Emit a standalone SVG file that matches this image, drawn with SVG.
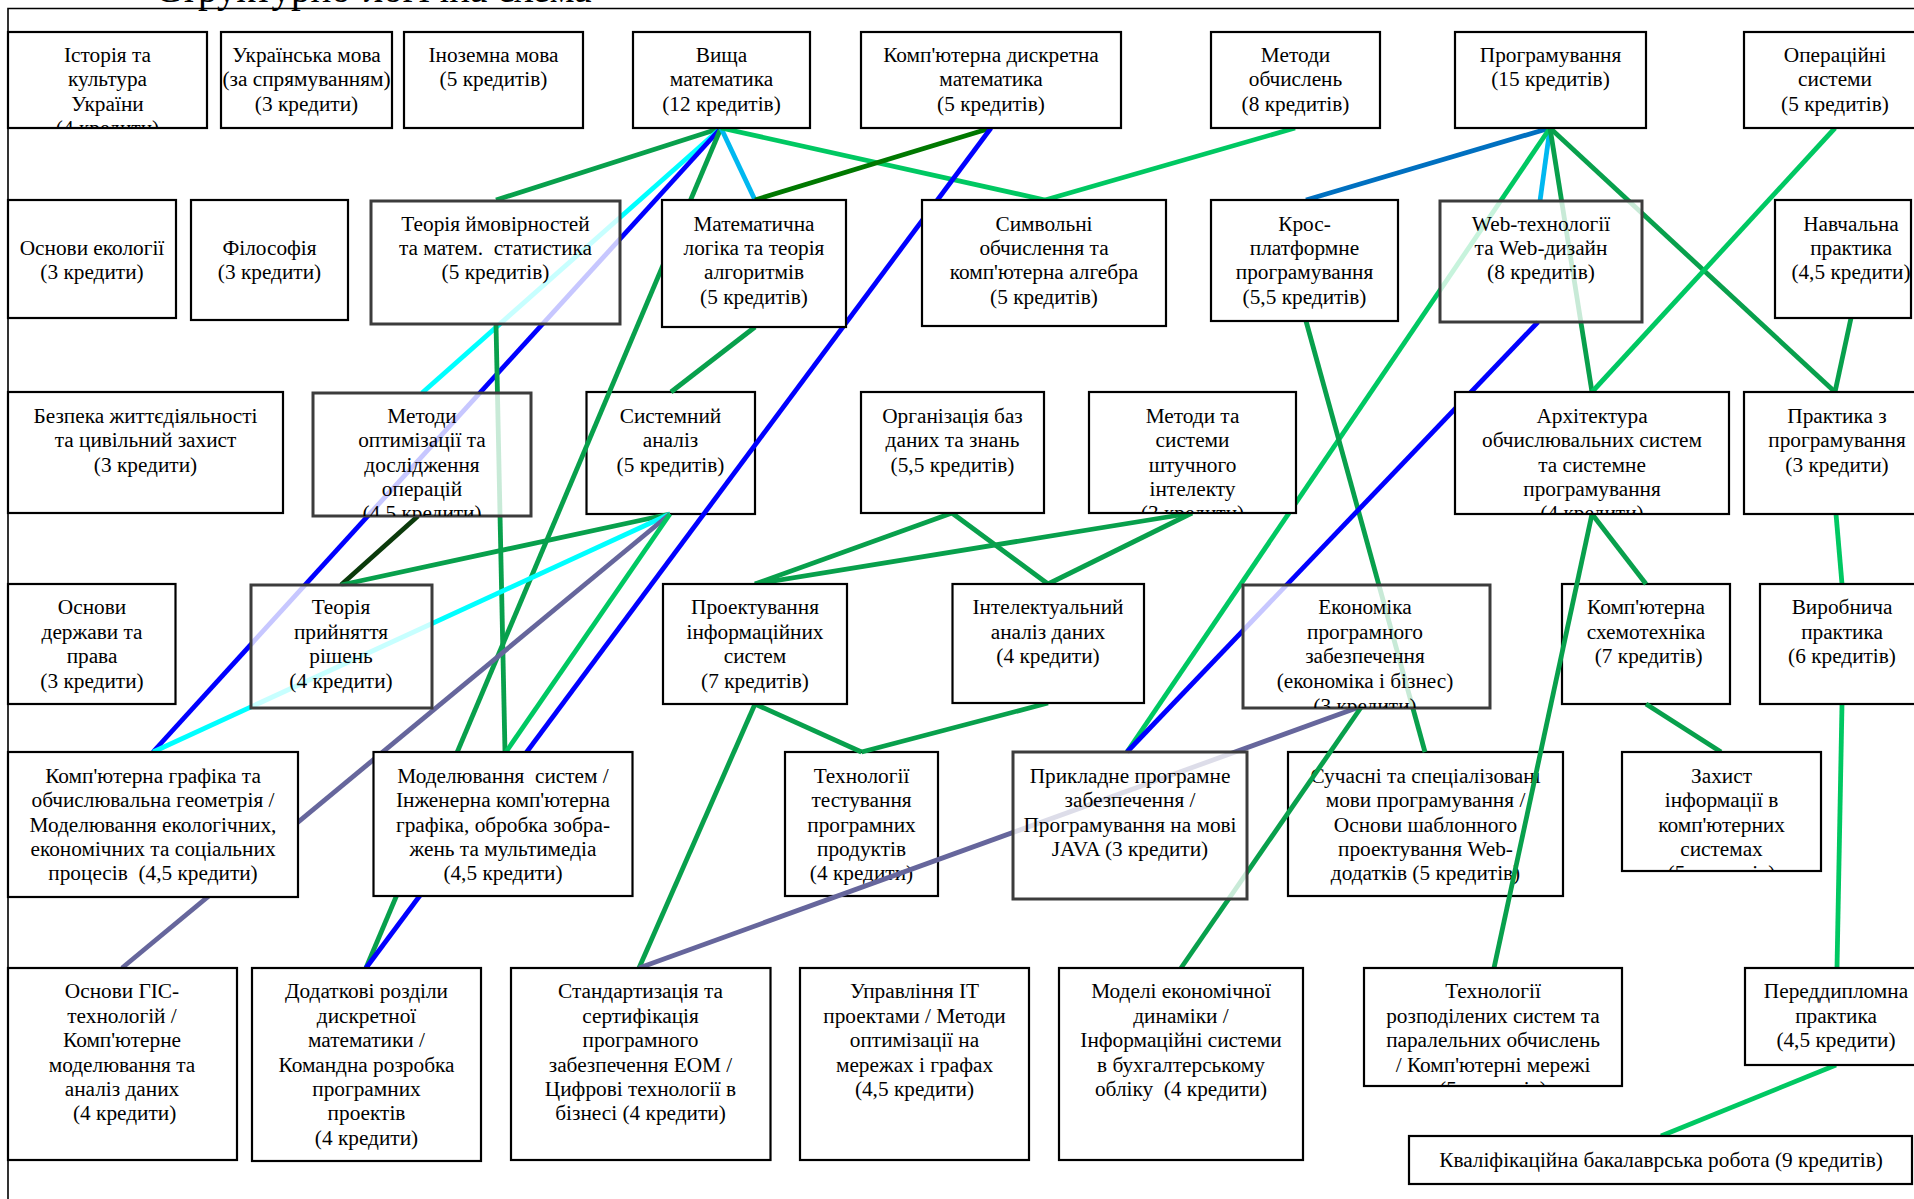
<svg xmlns="http://www.w3.org/2000/svg" width="1914" height="1199" viewBox="0 0 1914 1199" xml:space="preserve">
<style>
.t{font-family:"Liberation Serif","Times New Roman",serif;font-size:21.3px;fill:#000;text-anchor:middle;white-space:pre}
.b{fill:#fff;stroke:#000;stroke-width:2.2}
.g{fill:#fff;fill-opacity:0.78;stroke:#3c3c3c;stroke-width:3}
.c line{stroke-width:4.8;stroke-linecap:butt;fill:none}
.gd{stroke:#08a04c}
.gl{stroke:#00c862}
.dg{stroke:#007800}
.vdg{stroke:#0b3a0b}
.bl{stroke:#0000ff}
.mb{stroke:#0070c0}
.sk{stroke:#00b8f0}
.cy{stroke:#00ffff}
.sl{stroke:#66669c}
</style>
<defs>
<clipPath id="k1"><rect x="8" y="32" width="199" height="96"/></clipPath>
<clipPath id="k18"><rect x="313" y="393" width="218" height="123"/></clipPath>
<clipPath id="k21"><rect x="1089" y="392" width="207" height="121"/></clipPath>
<clipPath id="k22"><rect x="1455" y="392" width="274" height="122"/></clipPath>
<clipPath id="k28"><rect x="1243" y="585" width="247" height="123"/></clipPath>
<clipPath id="k36"><rect x="1622" y="752" width="199" height="119"/></clipPath>
<clipPath id="k42"><rect x="1364" y="968" width="258" height="118"/></clipPath>
</defs>
<rect x="0" y="0" width="1914" height="1199" fill="#fff"/>
<g id="frame">
<text x="155" y="1.5" style="font-family:'Liberation Serif',serif;font-size:39px">Структурно-логічна схема</text>
<path d="M8 1199 V8.5 H1914" fill="none" stroke="#000" stroke-width="1.6"/>
</g>
<g id="n19"><rect class="b" x="586.5" y="392" width="168.5" height="122"/><text class="t"><tspan x="670.5" y="422.7">Системний</tspan><tspan x="670.5" y="447.1">аналіз</tspan><tspan x="670.5" y="471.5">(5 кредитів)</tspan></text></g>
<g id="n33"><rect class="b" x="785" y="752" width="153" height="144"/><text class="t"><tspan x="861.5" y="782.7">Технології</tspan><tspan x="861.5" y="807.1">тестування</tspan><tspan x="861.5" y="831.5">програмних</tspan><tspan x="861.5" y="855.9">продуктів</tspan><tspan x="861.5" y="880.3">(4 кредити)</tspan></text></g>
<g id="n35"><rect class="b" x="1288" y="752" width="275" height="144"/><text class="t"><tspan x="1425.5" y="782.7">Сучасні та спеціалізовані</tspan><tspan x="1425.5" y="807.1">мови програмування /</tspan><tspan x="1425.5" y="831.5">Основи шаблонного</tspan><tspan x="1425.5" y="855.9">проектування Web-</tspan><tspan x="1425.5" y="880.3">додатків (5 кредитів)</tspan></text></g>
<g id="n29"><rect class="b" x="1562" y="584" width="168" height="120"/><text class="t"><tspan x="1646" y="614.3">Комп'ютерна</tspan><tspan x="1646" y="638.7">схемотехніка</tspan><tspan x="1646" y="663.1"> (7 кредитів)</tspan></text></g>
<g id="connectors" class="c">
<line class="gd" x1="721" y1="128" x2="496" y2="200"/>
<line class="cy" x1="721" y1="128" x2="422" y2="393"/>
<line class="bl" x1="721" y1="128" x2="153" y2="752"/>
<line class="gd" x1="721" y1="128" x2="366" y2="968"/>
<line class="sk" x1="721" y1="128" x2="755" y2="200"/>
<line class="gl" x1="721" y1="128" x2="1045" y2="200"/>
<line class="dg" x1="991" y1="128" x2="755" y2="200"/>
<line class="bl" x1="991" y1="128" x2="366" y2="968"/>
<line class="gl" x1="1295" y1="128" x2="1045" y2="200"/>
<line class="gd" x1="755" y1="327" x2="671" y2="392"/>
<line class="mb" x1="1550" y1="128" x2="1306" y2="200"/>
<line class="sk" x1="1550" y1="128" x2="1540" y2="201"/>
<line class="gl" x1="1550" y1="128" x2="1127" y2="752"/>
<line class="gd" x1="1550" y1="128" x2="1592" y2="392"/>
<line class="gd" x1="1550" y1="128" x2="1835" y2="392"/>
<line class="gl" x1="1835" y1="128" x2="1592" y2="392"/>
<line class="gd" x1="1851" y1="318" x2="1835" y2="392"/>
<line class="gd" x1="496" y1="324" x2="505" y2="752"/>
<line class="vdg" x1="418" y1="516" x2="341" y2="585"/>
<line class="gd" x1="670" y1="514" x2="341" y2="585"/>
<line class="cy" x1="670" y1="514" x2="153" y2="752"/>
<line class="sl" x1="670" y1="514" x2="122" y2="968"/>
<line class="gl" x1="670" y1="514" x2="506" y2="752"/>
<line class="gd" x1="952" y1="513" x2="755" y2="584"/>
<line class="gd" x1="952" y1="513" x2="1048" y2="584"/>
<line class="gd" x1="1192" y1="513" x2="755" y2="584"/>
<line class="gd" x1="1192" y1="513" x2="1048" y2="584"/>
<line class="gd" x1="755" y1="704" x2="861.5" y2="752"/>
<line class="gd" x1="1048" y1="703" x2="861.5" y2="752"/>
<line class="gd" x1="755" y1="704" x2="639" y2="968"/>
<line class="sl" x1="1362" y1="706" x2="639" y2="968"/>
<line class="gd" x1="1362" y1="706" x2="1181" y2="968"/>
<line class="gd" x1="1306" y1="321" x2="1425" y2="752"/>
<line class="bl" x1="1538" y1="322" x2="1127" y2="752"/>
<line class="gd" x1="1592" y1="514" x2="1646" y2="584"/>
<line class="gd" x1="1592" y1="514" x2="1494" y2="968"/>
<line class="gd" x1="1646" y1="704" x2="1721" y2="752"/>
<line class="gl" x1="1836" y1="514" x2="1842" y2="584"/>
<line class="gl" x1="1842" y1="704" x2="1837" y2="968"/>
<line class="gl" x1="1836" y1="1065" x2="1661" y2="1136"/>
</g>
<g id="n1"><rect class="b" x="8" y="32" width="199" height="96"/><text class="t" clip-path="url(#k1)"><tspan x="107.5" y="62">Історія та</tspan><tspan x="107.5" y="86.4">культура</tspan><tspan x="107.5" y="110.8">України</tspan><tspan x="107.5" y="135.2">(4 кредити)</tspan></text></g>
<g id="n2"><rect class="b" x="221" y="32" width="171" height="96"/><text class="t"><tspan x="306.5" y="62">Українська мова</tspan><tspan x="306.5" y="86.4">(за спрямуванням)</tspan><tspan x="306.5" y="110.8">(3 кредити)</tspan></text></g>
<g id="n3"><rect class="b" x="404" y="32" width="179" height="96"/><text class="t"><tspan x="493.5" y="62">Іноземна мова</tspan><tspan x="493.5" y="86.4">(5 кредитів)</tspan></text></g>
<g id="n4"><rect class="b" x="633" y="32" width="177" height="96"/><text class="t"><tspan x="721.5" y="62">Вища</tspan><tspan x="721.5" y="86.4">математика</tspan><tspan x="721.5" y="110.8">(12 кредитів)</tspan></text></g>
<g id="n5"><rect class="b" x="861" y="32" width="260" height="96"/><text class="t"><tspan x="991" y="62">Комп'ютерна дискретна</tspan><tspan x="991" y="86.4">математика</tspan><tspan x="991" y="110.8">(5 кредитів)</tspan></text></g>
<g id="n6"><rect class="b" x="1211" y="32" width="169" height="96"/><text class="t"><tspan x="1295.5" y="62">Методи</tspan><tspan x="1295.5" y="86.4">обчислень</tspan><tspan x="1295.5" y="110.8">(8 кредитів)</tspan></text></g>
<g id="n7"><rect class="b" x="1455" y="32" width="191" height="96"/><text class="t"><tspan x="1550.5" y="62">Програмування</tspan><tspan x="1550.5" y="86.4">(15 кредитів)</tspan></text></g>
<g id="n8"><rect class="b" x="1744" y="32" width="182" height="96"/><text class="t"><tspan x="1835" y="62">Операційні</tspan><tspan x="1835" y="86.4">системи</tspan><tspan x="1835" y="110.8">(5 кредитів)</tspan></text></g>
<g id="n9"><rect class="b" x="8" y="200" width="168" height="118"/><text class="t"><tspan x="92" y="255">Основи екології</tspan><tspan x="92" y="279.4">(3 кредити)</tspan></text></g>
<g id="n10"><rect class="b" x="191" y="200" width="157" height="120"/><text class="t"><tspan x="269.5" y="255">Філософія</tspan><tspan x="269.5" y="279.4">(3 кредити)</tspan></text></g>
<g id="n11"><rect class="g" x="371" y="201" width="249" height="123"/><text class="t"><tspan x="495.5" y="230.5">Теорія ймовірностей</tspan><tspan x="495.5" y="254.9">та матем.  статистика</tspan><tspan x="495.5" y="279.3">(5 кредитів)</tspan></text></g>
<g id="n12"><rect class="b" x="662" y="200" width="184" height="127"/><text class="t"><tspan x="754" y="230.5">Математична</tspan><tspan x="754" y="254.9">логіка та теорія</tspan><tspan x="754" y="279.3">алгоритмів</tspan><tspan x="754" y="303.7">(5 кредитів)</tspan></text></g>
<g id="n13"><rect class="b" x="922" y="200" width="244" height="126"/><text class="t"><tspan x="1044" y="230.5">Символьні</tspan><tspan x="1044" y="254.9">обчислення та</tspan><tspan x="1044" y="279.3">комп'ютерна алгебра</tspan><tspan x="1044" y="303.7">(5 кредитів)</tspan></text></g>
<g id="n14"><rect class="b" x="1211" y="200" width="187" height="121"/><text class="t"><tspan x="1304.5" y="230.5">Крос-</tspan><tspan x="1304.5" y="254.9">платформне</tspan><tspan x="1304.5" y="279.3">програмування</tspan><tspan x="1304.5" y="303.7">(5,5 кредитів)</tspan></text></g>
<g id="n15"><rect class="g" x="1440" y="201" width="202" height="121"/><text class="t"><tspan x="1541" y="230.5">Web-технології</tspan><tspan x="1541" y="254.9">та Web-дизайн</tspan><tspan x="1541" y="279.3">(8 кредитів)</tspan></text></g>
<g id="n16"><rect class="b" x="1775" y="200" width="136" height="118"/><text class="t"><tspan x="1851" y="230.5">Навчальна</tspan><tspan x="1851" y="254.9">практика</tspan><tspan x="1851" y="279.3">(4,5 кредити)</tspan></text></g>
<g id="n17"><rect class="b" x="8" y="392" width="275" height="121"/><text class="t"><tspan x="145.5" y="422.7">Безпека життєдіяльності</tspan><tspan x="145.5" y="447.1">та цивільний захист</tspan><tspan x="145.5" y="471.5">(3 кредити)</tspan></text></g>
<g id="n18"><rect class="g" x="313" y="393" width="218" height="123"/><text class="t" clip-path="url(#k18)"><tspan x="422" y="422.7">Методи</tspan><tspan x="422" y="447.1">оптимізації та</tspan><tspan x="422" y="471.5">дослідження</tspan><tspan x="422" y="495.9">операцій</tspan><tspan x="422" y="520.3">(4,5 кредити)</tspan></text></g>
<g id="n20"><rect class="b" x="861" y="392" width="183" height="121"/><text class="t"><tspan x="952.5" y="422.7">Організація баз</tspan><tspan x="952.5" y="447.1">даних та знань</tspan><tspan x="952.5" y="471.5">(5,5 кредитів)</tspan></text></g>
<g id="n21"><rect class="b" x="1089" y="392" width="207" height="121"/><text class="t" clip-path="url(#k21)"><tspan x="1192.5" y="422.7">Методи та</tspan><tspan x="1192.5" y="447.1">системи</tspan><tspan x="1192.5" y="471.5">штучного</tspan><tspan x="1192.5" y="495.9">інтелекту</tspan><tspan x="1192.5" y="520.3">(3 кредити)</tspan></text></g>
<g id="n22"><rect class="b" x="1455" y="392" width="274" height="122"/><text class="t" clip-path="url(#k22)"><tspan x="1592" y="422.7">Архітектура</tspan><tspan x="1592" y="447.1">обчислювальних систем</tspan><tspan x="1592" y="471.5">та системне</tspan><tspan x="1592" y="495.9">програмування</tspan><tspan x="1592" y="520.3">(4 кредити)</tspan></text></g>
<g id="n23"><rect class="b" x="1744" y="392" width="182" height="122"/><text class="t"><tspan x="1837" y="422.7">Практика з</tspan><tspan x="1837" y="447.1">програмування</tspan><tspan x="1837" y="471.5">(3 кредити)</tspan></text></g>
<g id="n24"><rect class="b" x="8" y="584" width="167.5" height="120"/><text class="t"><tspan x="92" y="614.3">Основи</tspan><tspan x="92" y="638.7">держави та</tspan><tspan x="92" y="663.1">права</tspan><tspan x="92" y="687.5">(3 кредити)</tspan></text></g>
<g id="n25"><rect class="g" x="251" y="585" width="181" height="123"/><text class="t"><tspan x="341" y="614.3">Теорія</tspan><tspan x="341" y="638.7">прийняття</tspan><tspan x="341" y="663.1">рішень</tspan><tspan x="341" y="687.5">(4 кредити)</tspan></text></g>
<g id="n26"><rect class="b" x="663" y="584" width="184" height="120"/><text class="t"><tspan x="755" y="614.3">Проектування</tspan><tspan x="755" y="638.7">інформаційних</tspan><tspan x="755" y="663.1">систем</tspan><tspan x="755" y="687.5">(7 кредитів)</tspan></text></g>
<g id="n27"><rect class="b" x="952.5" y="584" width="191.5" height="119"/><text class="t"><tspan x="1048" y="614.3">Інтелектуальний</tspan><tspan x="1048" y="638.7">аналіз даних</tspan><tspan x="1048" y="663.1">(4 кредити)</tspan></text></g>
<g id="n28"><rect class="g" x="1243" y="585" width="247" height="123"/><text class="t" clip-path="url(#k28)"><tspan x="1365" y="614.3">Економіка</tspan><tspan x="1365" y="638.7">програмного</tspan><tspan x="1365" y="663.1">забезпечення</tspan><tspan x="1365" y="687.5">(економіка і бізнес)</tspan><tspan x="1365" y="713">(3 кредити)</tspan></text></g>
<g id="n30"><rect class="b" x="1760" y="584" width="164" height="120"/><text class="t"><tspan x="1842" y="614.3">Виробнича</tspan><tspan x="1842" y="638.7">практика</tspan><tspan x="1842" y="663.1">(6 кредитів)</tspan></text></g>
<g id="n31"><rect class="b" x="8" y="752" width="290" height="145"/><text class="t"><tspan x="153" y="782.7">Комп'ютерна графіка та</tspan><tspan x="153" y="807.1">обчислювальна геометрія /</tspan><tspan x="153" y="831.5">Моделювання екологічних,</tspan><tspan x="153" y="855.9">економічних та соціальних</tspan><tspan x="153" y="880.3">процесів  (4,5 кредити)</tspan></text></g>
<g id="n32"><rect class="b" x="373.5" y="752" width="259" height="144"/><text class="t"><tspan x="503" y="782.7">Моделювання  систем /</tspan><tspan x="503" y="807.1">Інженерна комп'ютерна</tspan><tspan x="503" y="831.5">графіка, обробка зобра-</tspan><tspan x="503" y="855.9">жень та мультимедіа</tspan><tspan x="503" y="880.3">(4,5 кредити)</tspan></text></g>
<g id="n34"><rect class="g" x="1013" y="752" width="234" height="147"/><text class="t"><tspan x="1130" y="782.7">Прикладне програмне</tspan><tspan x="1130" y="807.1">забезпечення /</tspan><tspan x="1130" y="831.5">Програмування на мові</tspan><tspan x="1130" y="855.9">JAVA (3 кредити)</tspan></text></g>
<g id="n36"><rect class="b" x="1622" y="752" width="199" height="119"/><text class="t" clip-path="url(#k36)"><tspan x="1721.5" y="782.7">Захист</tspan><tspan x="1721.5" y="807.1">інформації в</tspan><tspan x="1721.5" y="831.5">комп'ютерних</tspan><tspan x="1721.5" y="855.9">системах</tspan><tspan x="1721.5" y="880.3">(5 кредитів)</tspan></text></g>
<g id="n37"><rect class="b" x="8" y="968" width="229" height="192"/><text class="t"><tspan x="122" y="998.3">Основи ГІС-</tspan><tspan x="122" y="1022.7">технологій /</tspan><tspan x="122" y="1047.1">Комп'ютерне</tspan><tspan x="122" y="1071.5">моделювання та</tspan><tspan x="122" y="1095.9">аналіз даних</tspan><tspan x="122" y="1120.3"> (4 кредити)</tspan></text></g>
<g id="n38"><rect class="b" x="252" y="968" width="229" height="193"/><text class="t"><tspan x="366.5" y="998.3">Додаткові розділи</tspan><tspan x="366.5" y="1022.7">дискретної</tspan><tspan x="366.5" y="1047.1">математики /</tspan><tspan x="366.5" y="1071.5">Командна розробка</tspan><tspan x="366.5" y="1095.9">програмних</tspan><tspan x="366.5" y="1120.3">проектів</tspan><tspan x="366.5" y="1144.7">(4 кредити)</tspan></text></g>
<g id="n39"><rect class="b" x="511" y="968" width="259.5" height="192"/><text class="t"><tspan x="640.5" y="998.3">Стандартизація та</tspan><tspan x="640.5" y="1022.7">сертифікація</tspan><tspan x="640.5" y="1047.1">програмного</tspan><tspan x="640.5" y="1071.5">забезпечення ЕОМ /</tspan><tspan x="640.5" y="1095.9">Цифрові технології в</tspan><tspan x="640.5" y="1120.3">бізнесі (4 кредити)</tspan></text></g>
<g id="n40"><rect class="b" x="800" y="968" width="229" height="192"/><text class="t"><tspan x="914.5" y="998.3">Управління IT</tspan><tspan x="914.5" y="1022.7">проектами / Методи</tspan><tspan x="914.5" y="1047.1">оптимізації на</tspan><tspan x="914.5" y="1071.5">мережах і графах</tspan><tspan x="914.5" y="1095.9">(4,5 кредити)</tspan></text></g>
<g id="n41"><rect class="b" x="1059" y="968" width="244" height="192"/><text class="t"><tspan x="1181" y="998.3">Моделі економічної</tspan><tspan x="1181" y="1022.7">динаміки /</tspan><tspan x="1181" y="1047.1">Інформаційні системи</tspan><tspan x="1181" y="1071.5">в бухгалтерському</tspan><tspan x="1181" y="1095.9">обліку  (4 кредити)</tspan></text></g>
<g id="n42"><rect class="b" x="1364" y="968" width="258" height="118"/><text class="t" clip-path="url(#k42)"><tspan x="1493" y="998.3">Технології</tspan><tspan x="1493" y="1022.7">розподілених систем та</tspan><tspan x="1493" y="1047.1">паралельних обчислень</tspan><tspan x="1493" y="1071.5">/ Комп'ютерні мережі</tspan><tspan x="1493" y="1095.9">(5 кредитів)</tspan></text></g>
<g id="n43"><rect class="b" x="1745" y="968" width="181" height="97"/><text class="t"><tspan x="1836" y="998.3">Переддипломна</tspan><tspan x="1836" y="1022.7">практика</tspan><tspan x="1836" y="1047.1">(4,5 кредити)</tspan></text></g>
<g id="n44"><rect class="b" x="1409" y="1136" width="503" height="48"/><text class="t" x="1661" y="1166.7">Кваліфікаційна бакалаврська робота (9 кредитів)</text></g>
</svg>
